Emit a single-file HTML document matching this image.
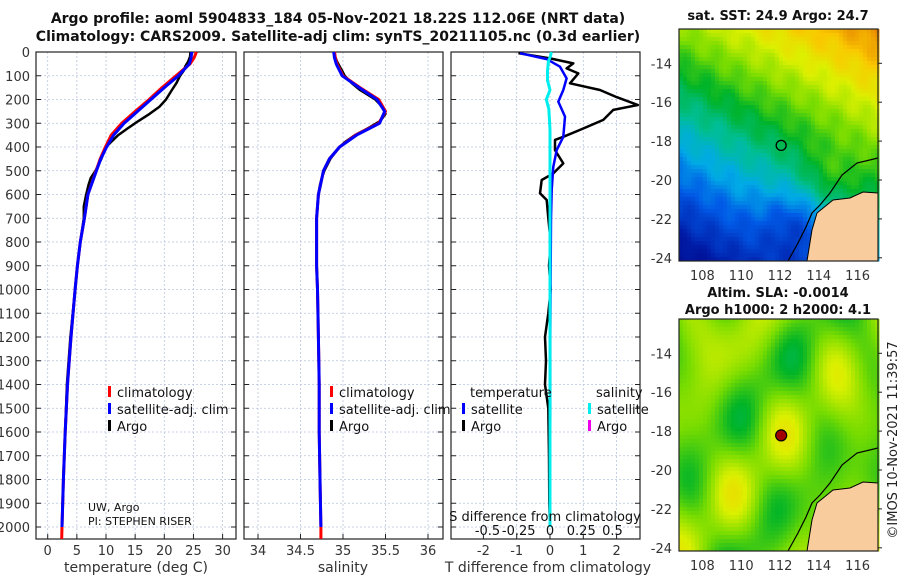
<!DOCTYPE html>
<html><head><meta charset="utf-8"><style>
html,body{margin:0;padding:0;background:#fff;}
svg{display:block;font-family:"DejaVu Sans","Liberation Sans",sans-serif;}
</style></head><body>
<svg id="fig" width="900" height="580" viewBox="0 0 900 580" xmlns="http://www.w3.org/2000/svg">
<text x="338" y="23" text-anchor="middle" font-size="14" font-weight="bold" fill="#111">Argo profile: aoml 5904833_184 05-Nov-2021 18.22S 112.06E (NRT data)</text>
<text x="338" y="41" text-anchor="middle" font-size="14" font-weight="bold" fill="#111">Climatology: CARS2009. Satellite-adj clim: synTS_20211105.nc (0.3d earlier)</text>
<text x="778" y="20" text-anchor="middle" font-size="13" font-weight="bold" fill="#111">sat. SST: 24.9 Argo: 24.7</text>
<text x="778" y="297" text-anchor="middle" font-size="13" font-weight="bold" fill="#111">Altim. SLA: -0.0014</text>
<text x="778" y="314" text-anchor="middle" font-size="13" font-weight="bold" fill="#111">Argo h1000: 2 h2000: 4.1</text>
<text transform="translate(897,440) rotate(-90)" text-anchor="middle" font-size="13" fill="#222">©IMOS 10-Nov-2021 11:39:57</text>
</svg>
<script>
// ---------- data ----------
const depthTicks=[0,100,200,300,400,500,600,700,800,900,1000,1100,1200,1300,1400,1500,1600,1700,1800,1900,2000];
const tempTicks=[0,5,10,15,20,25,30];
const salTicks=[34,34.5,35,35.5,36];
const salTickLabels=["34","34.5","35","35.5","36"];
const tdiffTicks=[-2,-1,0,1,2];
const sdiffTickLabels=["-0.5","-0.25","0","0.25","0.5"];
const sdiffTicks=[-0.5,-0.25,0,0.25,0.5];

const climDepth=[0,25,50,100,150,200,250,300,350,400,450,500,600,700,800,900,1000,1200,1400,1600,1800,2000,2050];
const climTemp=[25.5,25.1,24.4,22.0,19.6,17.4,15.0,12.7,10.9,9.9,9.0,8.3,6.9,6.3,5.6,5.1,4.7,4.0,3.4,3.0,2.7,2.45,2.4];
const climSal=[34.90,34.91,34.93,35.0,35.2,35.42,35.5,35.42,35.15,34.96,34.84,34.77,34.71,34.69,34.69,34.69,34.70,34.71,34.72,34.72,34.73,34.74,34.74];
const satDepth=[0,25,50,100,150,200,250,300,350,400,450,500,600,700,800,900,1000,1200,1400,1600,1800,2000];
const satTemp=[24.7,24.6,24.3,22.4,20.0,17.7,15.4,13.1,11.3,10.1,9.1,8.35,6.9,6.3,5.6,5.1,4.7,4.0,3.4,3.0,2.7,2.45];
const satSal=[34.89,34.90,34.92,34.99,35.19,35.4,35.49,35.43,35.16,34.96,34.84,34.77,34.71,34.69,34.69,34.69,34.70,34.71,34.72,34.72,34.73,34.74];
const argoDepth=[0,20,40,60,80,100,130,160,200,230,260,290,320,350,380,400,450,500,530,560,600,650,700,800,900,1000,1200,1400,1600,1800,2000];
const argoTemp=[24.5,24.4,24.1,23.6,23.3,22.7,22.1,21.3,20.3,19.2,17.5,15.6,13.8,12.1,10.8,10.0,9.2,8.2,7.4,7.0,6.6,6.2,6.2,5.6,5.1,4.7,3.9,3.3,3.0,2.7,2.45];
const argoSal=[34.90,34.91,34.93,34.96,34.99,35.02,35.1,35.2,35.38,35.46,35.5,35.44,35.3,35.14,35.02,34.96,34.85,34.78,34.75,34.73,34.71,34.70,34.69,34.69,34.69,34.70,34.71,34.72,34.72,34.73,34.74];

const tdArgoDepth=[5,27,48,69,90,132,160,190,223,244,286,328,357,370,413,469,511,539,595,623,700,800,900,1000,1100,1200,1300,1400,1500,1700,1900,2000];
const tdArgo=[-0.95,0,0.7,0.5,0.85,0.6,1.5,2.0,2.64,1.9,1.6,0.9,0.4,0.15,0.15,0.4,0.1,-0.25,-0.3,-0.1,-0.05,0.02,-0.03,0.02,-0.05,-0.15,-0.12,-0.15,-0.05,-0.03,-0.02,0];
const tdSatDepth=[5,30,62,111,160,209,272,357,413,483,581,700,900,1200,1500,2000];
const tdSat=[-0.9,-0.1,0.3,0.5,0.4,0.25,0.45,0.4,0.2,0.1,0.05,0.03,0.02,0.01,0.01,0];
const sdSatDepth=[0,15,40,80,120,160,200,240,280,330,400,600,1000,1500,2000];
const sdSat=[0.01,0.005,-0.013,-0.02,-0.02,0,-0.03,-0.01,-0.005,0.0,0.0,0.0,0.0,0.0,0.0];

// ---------- helpers ----------
const NS="http://www.w3.org/2000/svg";
const svg=document.getElementById('fig');
function mk(tag,attrs,parent){const e=document.createElementNS(NS,tag);for(const k in attrs)e.setAttribute(k,attrs[k]);(parent||svg).appendChild(e);return e;}
const Y0=52, YS=0.2375, PT=52, PB=539;
const yD=d=>Y0+d*YS;
const panels=[
 {x0:36,x1:236,fx:v=>47.7+5.83*v,name:'temperature-panel'},
 {x0:244,x1:443,fx:v=>258+85*(v-34),name:'salinity-panel'},
 {x0:451,x1:640,fx:v=>550+33.3*v,name:'t-difference-panel'}
];
const sx=v=>550+125*v;

function gridAndFrame(p,ticks,labels){
  const g=mk('g',{});
  
  
  depthTicks.forEach(d=>{
    const l=mk('line',{x1:p.x0,x2:p.x1,y1:yD(d),y2:yD(d),stroke:'#b8c4de','stroke-width':0.8,'stroke-dasharray':'2,2'},g);
    
    
    const t1=mk('line',{x1:p.x0,x2:p.x0+5,y1:yD(d),y2:yD(d),stroke:'#222'},g);
    
    
    const t2=mk('line',{x1:p.x1-5,x2:p.x1,y1:yD(d),y2:yD(d),stroke:'#222'},g);
    
    
  });
  ticks.forEach((v,i)=>{
    const x=p.fx(v);
    const l=mk('line',{x1:x,x2:x,y1:PT,y2:PB,stroke:'#b8c4de','stroke-width':0.8,'stroke-dasharray':'2,2'},g);
    
    
    const t=mk('line',{x1:x,x2:x,y1:PB-5,y2:PB,stroke:'#222'},g);
    
    
    const tx=mk('text',{x:x,y:555,'text-anchor':'middle','font-size':13,fill:'#333'},g);
    tx.textContent=labels[i];
    
    
  });
  const r=mk('rect',{x:p.x0,y:PT,width:p.x1-p.x0,height:PB-PT,fill:'none',stroke:'#222','stroke-width':1.2},g);
  
  
  return g;
}
gridAndFrame(panels[0],tempTicks,tempTicks.map(String));
gridAndFrame(panels[1],salTicks,salTickLabels);
gridAndFrame(panels[2],tdiffTicks,tdiffTicks.map(String));
depthTicks.forEach(d=>{
  const t=mk('text',{x:30,y:yD(d)+5,'text-anchor':'end','font-size':13,fill:'#333'});
  t.textContent=String(d);
  
  
});
[['temperature (deg C)',136],['salinity',343],['T difference from climatology',548]].forEach(a=>{
  const t=mk('text',{x:a[1],y:572,'text-anchor':'middle','font-size':14,fill:'#333'});
  t.textContent=a[0];
  
  
});

function line(xs,ds,fx,color,w,name,dash){
  const pts=xs.map((v,i)=>fx(v).toFixed(1)+','+yD(ds[i]).toFixed(1)).join(' ');
  const a={points:pts,fill:'none',stroke:color,'stroke-width':w,'stroke-linejoin':'round'};
  if(dash)a['stroke-dasharray']=dash;
  const pl=mk('polyline',a);
  
  
}
line(argoTemp,argoDepth,panels[0].fx,'#000',2.5,'argo-temperature-line');
line(climTemp,climDepth,panels[0].fx,'#ff0000',3,'climatology-temperature-line');
line(satTemp,satDepth,panels[0].fx,'#0000ff',3,'satellite-temperature-line');
line(argoSal,argoDepth,panels[1].fx,'#000',2.5,'argo-salinity-line');
line(climSal,climDepth,panels[1].fx,'#ff0000',3,'climatology-salinity-line');
line(satSal,satDepth,panels[1].fx,'#0000ff',3,'satellite-salinity-line');
line(tdArgo,tdArgoDepth,panels[2].fx,'#000',2.5,'argo-t-difference-line');
line(tdSat,tdSatDepth,panels[2].fx,'#0000ff',2.5,'satellite-t-difference-line');
line(sdSat,sdSatDepth,sx,'#00eeee',3,'satellite-s-difference-line');

function leg(x,y,color,label,name){
  const r=mk('rect',{x:x,y:y-11,width:3,height:11,fill:color});
  
  
  if(label){
    const t=mk('text',{x:x+9,y:y,'font-size':13,fill:'#111'});
    t.textContent=label;
    
    
  }
}
leg(108,397,'#ff0000','climatology','legend-climatology');
leg(108,414,'#0000ff','satellite-adj. clim','legend-satellite');
leg(108,431,'#000','Argo','legend-argo');
leg(330,397,'#ff0000','climatology','legend2-climatology');
leg(330,414,'#0000ff','satellite-adj. clim','legend2-satellite');
leg(330,431,'#000','Argo','legend2-argo');
leg(462,414,'#0000ff','satellite','legend-t-satellite');
leg(462,431,'#000','Argo','legend-t-argo');
leg(588,414,'#00eeee','satellite','legend-s-satellite');
leg(588,431,'#ee00ee','Argo','legend-s-argo');
[['temperature',470,397],['salinity',596,397]].forEach(a=>{
  const t=mk('text',{x:a[1],y:a[2],'font-size':13,fill:'#111'});
  t.textContent=a[0];
  
  
});
[['UW, Argo',88,511],['PI: STEPHEN RISER',88,525]].forEach(a=>{
  const t=mk('text',{x:a[1],y:a[2],'font-size':11,fill:'#111'});
  t.textContent=a[0];
  
  
});
{
  const t=mk('text',{x:545,y:521,'text-anchor':'middle','font-size':13,fill:'#111'});
  t.textContent='S difference from climatology';
  
  
  sdiffTicks.forEach((v,i)=>{
    const l=mk('text',{x:sx(v),y:535,'text-anchor':'middle','font-size':13,fill:'#111'});
    l.textContent=sdiffTickLabels[i];
    
    
  });
}

// ---------- maps ----------
const MX0=679,MX1=878,MW=MX1-MX0,MH=232;
const lonX=lon=>780+(lon-112)*19.4;
const latY=(lat,off)=>off+63.3+19.45*(-14-lat);
const stops=[[0,[0,0,125]],[0.12,[0,30,170]],[0.25,[0,90,230]],[0.35,[0,170,230]],[0.45,[0,190,150]],[0.55,[0,180,40]],[0.65,[120,220,0]],[0.75,[220,240,0]],[0.85,[250,200,0]],[0.95,[230,130,0]],[1,[200,90,0]]];
function cmap(v){v=Math.max(0,Math.min(1,v));for(let i=1;i<stops.length;i++){if(v<=stops[i][0]){const a=stops[i-1],b=stops[i],t=(v-a[0])/(b[0]-a[0]);return 'rgb('+a[1].map((c,k)=>Math.round(c+(b[1][k]-c)*t)).join(',')+')';}}return 'rgb(200,90,0)';}
function drawMap(off,field,name,cell){
  const g=mk('g',{});
  
  
  for(let y=0;y<MH;y+=cell){for(let x=0;x<MW;x+=cell){
    const a=(x+cell/2)/MW,b=1-(y+cell/2)/MH;
    mk('rect',{x:MX0+x,y:off+y,width:cell+0.5,height:cell+0.5,fill:cmap(field(a,b))},g);
  }}
  return g;
}
drawMap(29,(a,b)=>0.05+0.62*b+0.32*a-0.05*a*b-0.12*Math.exp(-((a-0.6)**2+(b-0.15)**2)/0.03)+0.08*Math.exp(-((a-0.75)**2+(b-0.35)**2)/0.02)+0.025*Math.sin(a*37+b*11)*Math.cos(b*29-a*7),'sst-map',4);
drawMap(319,(a,b)=>0.65+0.06*Math.sin(a*13+1)*Math.cos(b*11+0.5)+0.05*Math.sin(a*7-b*9+2)+0.03*Math.cos(a*19+b*5),'sla-map',4);

function coast(off,name){
  const d=[[878,158],[857,163],[842,175],[830,193],[820,205],[812,213],[806,227],[798,243],[788,261]];
  const land=[[878,193],[863,192],[850,198],[833,200],[817,213],[812,230],[807,261],[878,261]];
  const o=off-29;
  const pg=mk('polygon',{points:land.map(p=>p[0]+','+(p[1]+o)).join(' '),fill:'#f9cc9e',stroke:'#000','stroke-width':1});
  
  
  const pl=mk('polyline',{points:d.map(p=>p[0]+','+(p[1]+o)).join(' '),fill:'none',stroke:'#000','stroke-width':1.2});
  
  
}
coast(29,'sst-map');
coast(319,'sla-map');

function mapAxes(off,name){
  const r=mk('rect',{x:MX0,y:off,width:MW,height:MH,fill:'none',stroke:'#222','stroke-width':1.2});
  
  
  [-14,-16,-18,-20,-22,-24].forEach(lat=>{
    const y=latY(lat,off-29);
    const t=mk('text',{x:672,y:y+5,'text-anchor':'end','font-size':13,fill:'#333'});
    t.textContent=String(lat);
    
    
    const tk=mk('line',{x1:MX1,x2:MX1+4,y1:y,y2:y,stroke:'#222'});
    
    
  });
  [108,110,112,114,116].forEach(lon=>{
    const t=mk('text',{x:lonX(lon),y:off+MH+19,'text-anchor':'middle','font-size':13,fill:'#333'});
    t.textContent=String(lon);
    
    
  });
}
mapAxes(29,'sst-map');
mapAxes(319,'sla-map');
{
  const c1=mk('circle',{cx:lonX(112.06),cy:latY(-18.22,0),r:5,fill:'none',stroke:'#000','stroke-width':1.3});
  
  
  const c2=mk('circle',{cx:lonX(112.06),cy:latY(-18.22,290),r:5.5,fill:'#a00000',stroke:'#000','stroke-width':1.2});
  
  
}
</script>
</body></html>
